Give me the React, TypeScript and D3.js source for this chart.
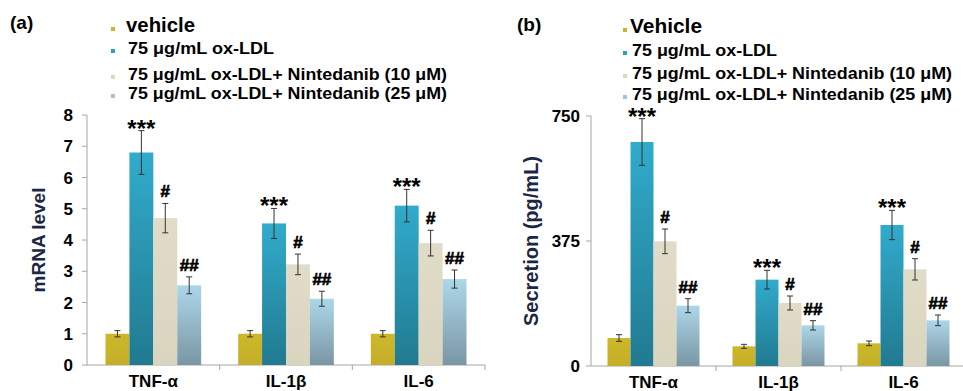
import * as d3 from "d3";

// categories + legend
const categories = ["TNF-α", "IL-1β", "IL-6"];
const legendA = ["vehicle", "75 μg/mL ox-LDL", "75 μg/mL ox-LDL+ Nintedanib (10 μM)", "75 μg/mL ox-LDL+ Nintedanib (25 μM)"];
const legendB = ["Vehicle", "75 μg/mL ox-LDL", "75 μg/mL ox-LDL+ Nintedanib (10 μM)", "75 μg/mL ox-LDL+ Nintedanib (25 μM)"];
const marks = ["", "***", "#", "##"];

// (a) mRNA level
const mrnaVehicle = [1.0, 1.0, 1.0];
const mrnaOxLdl = [6.8, 4.53, 5.1];
const mrnaNin10 = [4.7, 3.22, 3.9];
const mrnaNin25 = [2.55, 2.12, 2.75];
const mrnaVehicleErr = [0.1, 0.1, 0.1];
const mrnaOxLdlErr = [0.7, 0.48, 0.52];
const mrnaNin10Err = [0.47, 0.33, 0.41];
const mrnaNin25Err = [0.27, 0.24, 0.29];
const mrnaTicks = [0, 1, 2, 3, 4, 5, 6, 7, 8];

// (b) secretion pg/mL
const secVehicle = [84, 59, 68];
const secOxLdl = [672, 259, 423];
const secNin10 = [374, 189, 290];
const secNin25 = [181, 122, 137];
const secVehicleErr = [10, 6, 7];
const secOxLdlErr = [70, 28, 44];
const secNin10Err = [37, 21, 32];
const secNin25Err = [21, 14, 16];
const secTicks = [0, 375, 750];

const fills = ["url(#gVeh)", "url(#gOx)", "url(#gN10)", "url(#gN25)"];
const swatch = ["#c9b42a", "#2b9fbf", "#dcd8c2", "#9fc6d6"];
const FONT = "'Liberation Sans', Arial, sans-serif";

function Panel(props: any) {
  const {xr, yr, max, ticks, vals, errs, inset, tickGap, yLabel, yLabelX, yLabelSize, labY} = props;
  const x = d3.scaleBand().domain(categories).range(xr);
  const inner = d3.scaleBand().domain(["0", "1", "2", "3"]).range([inset, x.bandwidth() - inset]);
  const y = d3.scaleLinear().domain([0, max]).range(yr);
  const axisCol = "#a6a6a6";
  return (
    <g>
      {/* y axis */}
      <line x1={xr[0]} x2={xr[0]} y1={y(0)} y2={y(max)} stroke={axisCol} />
      {ticks.map((t: number) => (
        <g key={t}>
          <line x1={xr[0] - 5} x2={xr[0]} y1={y(t)} y2={y(t)} stroke={axisCol} />
          <text x={xr[0] - tickGap} y={y(t) + 6} textAnchor="end" fontSize={17} fontWeight="bold" fontFamily={FONT}>{t}</text>
        </g>
      ))}
      {/* x axis */}
      <line x1={xr[0]} x2={xr[1]} y1={y(0)} y2={y(0)} stroke={axisCol} />
      {categories.map((c, i) => (
        <line key={c} x1={(x(c) as number) + x.bandwidth()} x2={(x(c) as number) + x.bandwidth()} y1={y(0)} y2={y(0) + 5} stroke={axisCol} />
      ))}
      {categories.map((c) => (
        <text key={c} x={(x(c) as number) + x.bandwidth() / 2} y={labY} textAnchor="middle" fontSize={17} fontWeight="bold" fontFamily={FONT}>{c}</text>
      ))}
      {/* bars */}
      {vals.map((s: number[], si: number) =>
        s.map((v, ci) => {
          const bx = (x(categories[ci]) as number) + (inner(String(si)) as number);
          const w = inner.bandwidth();
          const e = errs[si][ci];
          const cx = bx + w / 2;
          const top = y(v + e);
          const m = marks[si];
          return (
            <g key={si + "-" + ci}>
              <rect x={bx} y={y(v)} width={w} height={y(0) - y(v)} fill={fills[si]} />
              <line x1={cx} x2={cx} y1={y(v + e)} y2={y(v - e)} stroke="#333" strokeWidth={1} />
              <line x1={cx - 3} x2={cx + 3} y1={y(v + e)} y2={y(v + e)} stroke="#333" strokeWidth={1} />
              <line x1={cx - 3} x2={cx + 3} y1={y(v - e)} y2={y(v - e)} stroke="#333" strokeWidth={1} />
              {m === "***" && (
                <text x={cx} y={top + 6} textAnchor="middle" fontSize={24} fontWeight="bold" fontFamily={FONT}>{m}</text>
              )}
              {m && m !== "***" && (
                <text x={cx} y={top - 6} textAnchor="middle" fontSize={17} fontWeight="bold"
                  fontFamily={FONT} stroke="#000" strokeWidth={0.7}>{m}</text>
              )}
            </g>
          );
        })
      )}
      <text transform={`translate(${yLabelX},${(y(0) + y(max)) / 2}) rotate(-90)`} textAnchor="middle"
        fontSize={yLabelSize} fontWeight="bold" fontFamily={FONT} fill="#1b2744">{yLabel}</text>
    </g>
  );
}

function Legend(props: any) {
  const {items, mx, tx, ys, firstSize, widths} = props;
  return (
    <g fontFamily={FONT} fontWeight="bold">
      {items.map((t: string, i: number) => (
        <g key={t}>
          <rect x={mx} y={ys[i] - 5} width={4} height={4} fill={swatch[i]} />
          <text x={tx + (i === 0 ? 0 : 2)} y={ys[i]} fontSize={i === 0 ? firstSize : 17}
            textLength={widths[i]} lengthAdjust="spacingAndGlyphs">{t}</text>
        </g>
      ))}
    </g>
  );
}

export default function App() {
  return (
    <svg width={963} height={391} style={{position: "absolute", left: 0, top: 0, background: "#fff"}}>
      <defs>
        <linearGradient id="gVeh" x1="0" y1="0" x2="0" y2="1">
          <stop offset="0" stopColor="#cdb828" />
          <stop offset="1" stopColor="#c4ae2a" />
        </linearGradient>
        <linearGradient id="gOx" x1="0" y1="0" x2="0" y2="1">
          <stop offset="0" stopColor="#31abcc" />
          <stop offset="1" stopColor="#217a90" />
        </linearGradient>
        <linearGradient id="gN10" x1="0" y1="0" x2="0" y2="1">
          <stop offset="0" stopColor="#e0dcc8" />
          <stop offset="1" stopColor="#d9d5bf" />
        </linearGradient>
        <linearGradient id="gN25" x1="0" y1="0" x2="0" y2="1">
          <stop offset="0" stopColor="#acd7e9" />
          <stop offset="1" stopColor="#7a96a4" />
        </linearGradient>
      </defs>
      <text x={10} y={29} fontSize={19} fontWeight="bold" fontFamily={FONT}>(a)</text>
      <text x={517} y={31} fontSize={19} fontWeight="bold" fontFamily={FONT}>(b)</text>
      <Legend items={legendA} mx={111} tx={126} ys={[32, 54, 80, 99]} firstSize={20} widths={[69, 146, 319, 319]} />
      <Legend items={legendB} mx={623} tx={630} ys={[33, 56, 79, 100]} firstSize={21} widths={[72, 145, 320, 320]} />
      <Panel xr={[87, 485]} yr={[365, 115]} max={8} ticks={mrnaTicks}
        vals={[mrnaVehicle, mrnaOxLdl, mrnaNin10, mrnaNin25]}
        errs={[mrnaVehicleErr, mrnaOxLdlErr, mrnaNin10Err, mrnaNin25Err]}
        inset={18.5} tickGap={14} yLabel="mRNA level" yLabelX={45} yLabelSize={19} labY={387} />
      <Panel xr={[591, 966]} yr={[366, 116]} max={750} ticks={secTicks}
        vals={[secVehicle, secOxLdl, secNin10, secNin25]}
        errs={[secVehicleErr, secOxLdlErr, secNin10Err, secNin25Err]}
        inset={16.5} tickGap={11} yLabel="Secretion (pg/mL)" yLabelX={538} yLabelSize={20} labY={388} />
    </svg>
  );
}
